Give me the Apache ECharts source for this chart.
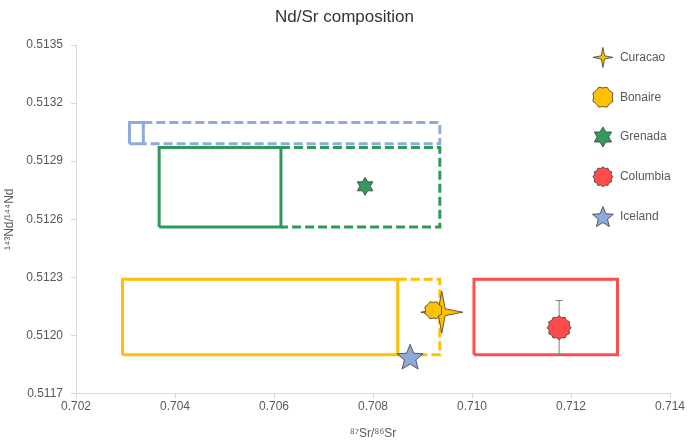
<!DOCTYPE html>
<html>
<head>
<meta charset="utf-8">
<script src="https://cdn.jsdelivr.net/npm/echarts@6/dist/echarts.min.js"></script>
<style>html,body{margin:0;padding:0;background:#fff}#c{width:689px;height:446px}</style>
</head>
<body>
<div id="c"></div>
<script>
// ---- data ----
const xTicks = [0.702, 0.714, 0.002];          // min, max, interval
const yTicks = [0.5117, 0.5135, 0.0003];
const seriesNames = ['Curacao', 'Bonaire', 'Grenada', 'Columbia', 'Iceland'];
const curacaoPoint = [0.70939, 0.51212];
const bonairePoint = [0.70922, 0.51213];
const grenadaPoint = [0.70784, 0.51277];
const columbiaPoint = [0.71176, 0.51204];
const columbiaError = [0.00014];
const icelandPoint = [0.70875, 0.51189];
// box ranges: x = [left, solid right, dashed right], y = [bottom, top]
const icelandBoxX = [0.70308, 0.70336, 0.70935];
const icelandBoxY = [0.51299, 0.51310];
const grenadaBoxX = [0.70368, 0.70614, 0.70935];
const grenadaBoxY = [0.51256, 0.51297];
const antillesBoxX = [0.70294, 0.70850, 0.70935];
const antillesBoxY = [0.51190, 0.51229];
const columbiaBoxX = [0.71004, 0.71294];
const columbiaBoxY = [0.51190, 0.51229];

// ---- helpers (shapes/styles only) ----
function starPath(n, rOuter, rInner, rot) {
  let d = '';
  for (let i = 0; i < 2 * n; i++) {
    const r = i % 2 === 0 ? rOuter : rInner;
    const a = rot + Math.PI * i / n;
    const x = (r * Math.sin(a)).toFixed(3), y = (-r * Math.cos(a)).toFixed(3);
    d += (i === 0 ? 'M' : 'L') + x + ',' + y + ' ';
  }
  return 'path://' + d + 'Z';
}
const sym = {
  Curacao: starPath(4, 20, 4.6, 0),
  Bonaire: starPath(8, 10, 8.6, Math.PI / 8),
  Grenada: starPath(6, 10, 5.8, 0),
  Columbia: starPath(12, 10, 8.6, 0),
  Iceland: starPath(5, 10, 4.4, 0)
};
const fill = { Curacao: '#FFC000', Bonaire: '#FFC000', Grenada: '#33995E', Columbia: '#FF4B4B', Iceland: '#8EA9DB' };
const symSize = { Curacao: [42, 42], Bonaire: 17, Grenada: 18, Columbia: 24, Iceland: 26 };
const lineCol = { blue: '#8FAADC', green: '#2E9A5A', yellow: '#FFC000', red: '#FF4D4D' };

function solidBox(bx, by) {
  return [[bx[0], by[0]], [bx[1], by[0]], [bx[1], by[1]], [bx[0], by[1]], [bx[0], by[0]]];
}
function dashedTail(bx, by) {
  return [[bx[1], by[1]], [bx[2], by[1]], [bx[2], by[0]], [bx[1], by[0]]];
}
function boxSeries(data, color, dashed) {
  return {
    type: 'line', data: data, symbol: 'none', silent: true, animation: false, z: 1,
    lineStyle: { color: color, width: 3, type: dashed ? [9, 4] : 'solid', join: 'miter' }
  };
}
function pointSeries(name, pt) {
  return {
    type: 'scatter', name: name, data: [pt], symbol: sym[name], symbolSize: symSize[name],
    symbolKeepAspect: true, z: 5,
    itemStyle: { color: fill[name], borderColor: '#3a3a3a', borderWidth: 0.8, opacity: 1 }
  };
}

const chart = echarts.init(document.getElementById('c'), null, { renderer: 'canvas' });
const font = 'Liberation Sans, Arial, sans-serif';
chart.setOption({
  animation: false,
  backgroundColor: '#fff',
  textStyle: { fontFamily: font },
  title: {
    text: 'Nd/Sr composition', left: 'center', top: 4,
    textStyle: { fontSize: 17, fontWeight: 'normal', color: '#333333', fontFamily: font }
  },
  grid: { left: 76, right: 19, top: 45, bottom: 52.5, containLabel: false, outerBoundsMode: 'none' },
  legend: {
    orient: 'vertical', left: 587, top: 42, itemGap: 19, itemWidth: 24, itemHeight: 20,
    textStyle: { fontSize: 12, color: '#595959', fontFamily: font },
    itemStyle: { borderWidth: 0.8, borderColor: '#3a3a3a' },
    data: seriesNames.map(n => ({ name: n, icon: sym[n] })),
    selectedMode: false
  },
  xAxis: {
    type: 'value', min: xTicks[0], max: xTicks[1], interval: xTicks[2],
    name: '\u2078\u2077Sr/\u2078\u2076Sr', nameLocation: 'middle', nameGap: 34,
    nameTextStyle: { fontSize: 12, color: '#595959' },
    axisLine: { lineStyle: { color: '#D9D9D9', width: 1 } },
    axisTick: { show: true, length: 5, lineStyle: { color: '#D9D9D9' } },
    axisLabel: { fontSize: 12, color: '#595959', margin: 7, formatter: v => v.toFixed(3) },
    splitLine: { show: false }
  },
  yAxis: {
    type: 'value', min: yTicks[0], max: yTicks[1], interval: yTicks[2],
    name: '\u00B9\u2074\u00B3Nd/\u00B9\u2074\u2074Nd', nameLocation: 'middle', nameGap: 59,
    nameTextStyle: { fontSize: 12, color: '#595959' },
    axisLine: { show: true, lineStyle: { color: '#D9D9D9', width: 1 } },
    axisTick: { show: true, length: 5, lineStyle: { color: '#D9D9D9' } },
    axisLabel: { fontSize: 12, color: '#595959', margin: 13, formatter: v => v.toFixed(4) },
    splitLine: { show: false }
  },
  series: [
    boxSeries(solidBox(icelandBoxX, icelandBoxY), lineCol.blue, false),
    boxSeries(dashedTail(icelandBoxX, icelandBoxY), lineCol.blue, true),
    boxSeries(solidBox(grenadaBoxX, grenadaBoxY), lineCol.green, false),
    boxSeries(dashedTail(grenadaBoxX, grenadaBoxY), lineCol.green, true),
    boxSeries(solidBox(antillesBoxX, antillesBoxY), lineCol.yellow, false),
    boxSeries(dashedTail(antillesBoxX, antillesBoxY), lineCol.yellow, true),
    boxSeries(solidBox(columbiaBoxX, columbiaBoxY), lineCol.red, false),
    {
      type: 'custom', silent: true, z: 4,
      data: [[columbiaPoint[0], columbiaPoint[1] - columbiaError[0], columbiaPoint[1] + columbiaError[0]]],
      encode: { x: 0, y: [1, 2] },
      renderItem: function (params, api) {
        const lo = api.coord([api.value(0), api.value(1)]);
        const hi = api.coord([api.value(0), api.value(2)]);
        const st = { stroke: '#7F7F7F', lineWidth: 1 };
        return {
          type: 'group', children: [
            { type: 'line', shape: { x1: lo[0], y1: lo[1], x2: hi[0], y2: hi[1] }, style: st },
            { type: 'line', shape: { x1: lo[0] - 3.5, y1: lo[1], x2: lo[0] + 3.5, y2: lo[1] }, style: st },
            { type: 'line', shape: { x1: hi[0] - 3.5, y1: hi[1], x2: hi[0] + 3.5, y2: hi[1] }, style: st }
          ]
        };
      }
    },
    pointSeries('Curacao', curacaoPoint),
    pointSeries('Bonaire', bonairePoint),
    pointSeries('Grenada', grenadaPoint),
    pointSeries('Columbia', columbiaPoint),
    pointSeries('Iceland', icelandPoint)
  ]
});
</script>
</body>
</html>
